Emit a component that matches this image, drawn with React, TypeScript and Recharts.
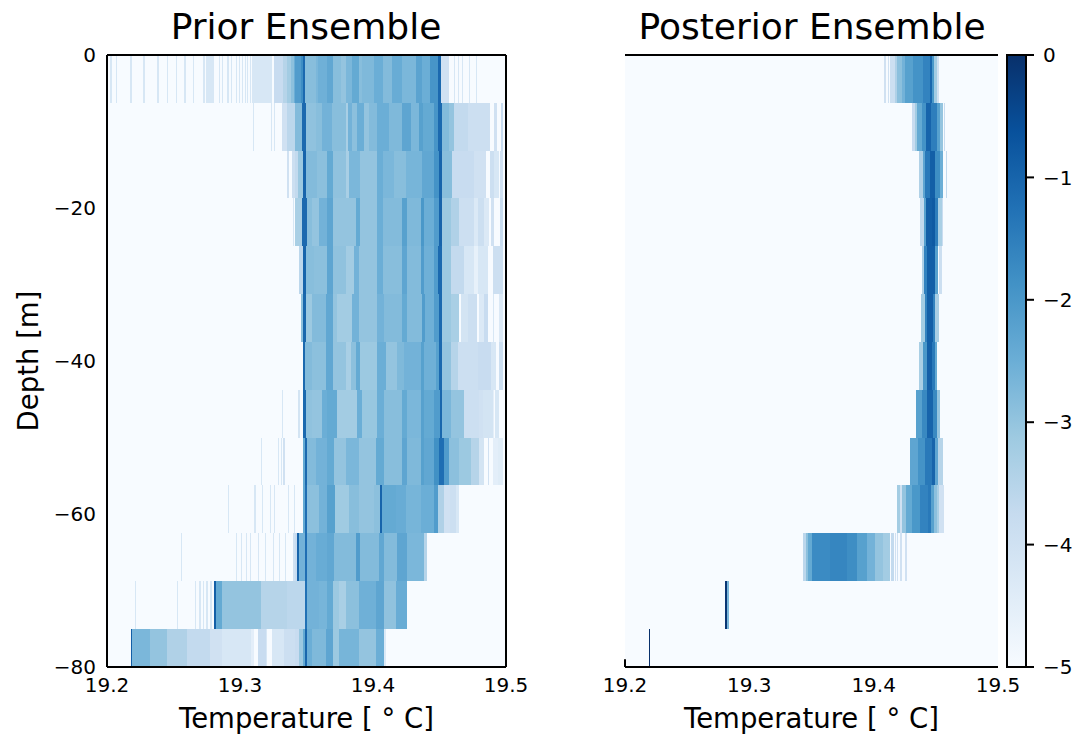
import React from "react";
import { ComposedChart, XAxis, YAxis, ReferenceArea, ReferenceLine } from "recharts";

type Pair = [number, number];

const tempTicks = [19.2, 19.3, 19.4, 19.5];
const depthTicks = [0, -20, -40, -60, -80];
const colorTicks = [0, -1, -2, -3, -4, -5];
const bluesPalette = ["#f7fbff", "#deebf7", "#c6dbef", "#9ecae1", "#6baed6", "#4292c6", "#2171b5", "#08519c", "#08306b"];
const layerThickness = 6.25;
const stickLevel = -4.2;
const stickWidth = 0.0009;

const priorRows: Pair[][] = [
  [[19.2748,-4.2],[19.2808,-5],[19.3092,-4.2],[19.3242,-5],[19.3255,-3.8],[19.332,-3.5],[19.3355,-3.2],[19.338,-2.9],[19.3405,-2.5],[19.3417,-2.1],[19.3455,-1.8],[19.3472,-1.1],[19.3492,-2.85],[19.3573,-2.7],[19.3588,-2.55],[19.3655,-2.35],[19.3698,-2.85],[19.3756,-3],[19.3794,-2.7],[19.3844,-2.4],[19.3894,-2.85],[19.3919,-2.75],[19.4007,-2.5],[19.4075,-2.8],[19.4145,-2.45],[19.422,-2.7],[19.4326,-2.25],[19.4366,-2.5],[19.4426,-1.95],[19.4491,-1.1],[19.4514,-4],[19.4568,-5]],
  [[19.3313,-4],[19.3355,-3.6],[19.3417,-2.8],[19.3467,-1.1],[19.3497,-2.95],[19.3568,-2.85],[19.3618,-2.6],[19.3693,-2.85],[19.3794,-3.3],[19.3814,-2.6],[19.3844,-2.9],[19.3881,-2.5],[19.3932,-3],[19.3969,-2.8],[19.4032,-2.5],[19.412,-2.75],[19.422,-2.3],[19.4283,-2.7],[19.4346,-2.2],[19.4376,-2.4],[19.4459,-1.95],[19.4491,-1.1],[19.4516,-2.8],[19.4572,-3],[19.4609,-3.7],[19.4715,-3.9],[19.4877,-5],[19.491,-4],[19.4935,-5],[19.496,-3.8],[19.498,-5]],
  [[19.3355,-4],[19.3368,-5],[19.3388,-3.9],[19.3417,-3.7],[19.3437,-3.1],[19.3472,-1],[19.3497,-2.8],[19.358,-2.9],[19.3655,-2.4],[19.3701,-2.95],[19.3794,-3.3],[19.3819,-2.7],[19.3906,-3],[19.4032,-2.5],[19.4075,-2.7],[19.4157,-2.85],[19.4245,-2.65],[19.4366,-2.35],[19.4459,-1.9],[19.4496,-1],[19.4516,-2.85],[19.4597,-3.8],[19.476,-4],[19.485,-5],[19.488,-3.9],[19.491,-4.2],[19.495,-5],[19.4955,-4],[19.498,-5]],
  [[19.3417,-3.3],[19.3467,-1.1],[19.35,-2.85],[19.3543,-3],[19.3593,-2.6],[19.3655,-2.3],[19.3701,-3],[19.3869,-2.4],[19.3906,-3],[19.4032,-2.5],[19.4075,-2.8],[19.422,-2.2],[19.4258,-2.75],[19.4358,-2],[19.4383,-2.5],[19.4459,-2.1],[19.4496,-1],[19.4521,-3.1],[19.4584,-3.4],[19.4648,-3.9],[19.4761,-4.3],[19.4786,-3.9],[19.4836,-4.3],[19.4874,-5],[19.4887,-4],[19.4912,-5],[19.4954,-3.8],[19.4974,-5]],
  [[19.344,-3.6],[19.3472,-1],[19.3497,-2.85],[19.3555,-2.9],[19.3655,-2.3],[19.3701,-2.95],[19.3794,-3.2],[19.3856,-2.6],[19.3894,-3],[19.4032,-2.5],[19.4075,-2.85],[19.422,-2.3],[19.4253,-2.8],[19.4358,-2.1],[19.4383,-2.55],[19.4459,-2.1],[19.4491,-1.1],[19.4516,-3.1],[19.4584,-3.7],[19.4686,-4.2],[19.4761,-4.6],[19.4786,-4.2],[19.4861,-5],[19.49,-3.9],[19.4974,-5]],
  [[19.3462,-2.9],[19.3477,-1.05],[19.3497,-3.1],[19.3543,-2.8],[19.3643,-2.35],[19.3698,-3],[19.3731,-3.2],[19.3844,-2.6],[19.3894,-3],[19.4032,-2.6],[19.4082,-2.8],[19.422,-2.4],[19.4253,-2.8],[19.4366,-2.1],[19.4391,-2.55],[19.4459,-2.1],[19.4496,-1.1],[19.4516,-3.1],[19.4584,-3.3],[19.4648,-5],[19.466,-4.1],[19.4711,-5],[19.4718,-3.9],[19.4781,-5],[19.4794,-4.3],[19.4836,-3.8],[19.4861,-5],[19.49,-4.2],[19.4912,-5],[19.4949,-4.3],[19.4974,-5]],
  [[19.3472,-1.1],[19.3492,-2.8],[19.3543,-2.9],[19.3643,-2.35],[19.3698,-3],[19.3794,-3.3],[19.3831,-2.9],[19.3869,-2.4],[19.3906,-3.1],[19.4032,-2.5],[19.4095,-3],[19.4183,-2.75],[19.4233,-2.6],[19.4358,-2.2],[19.4383,-2.55],[19.4471,-2.2],[19.4496,-1.1],[19.4516,-3],[19.4584,-3.5],[19.464,-3.9],[19.4786,-3.8],[19.4887,-4.2],[19.4924,-5],[19.4949,-3.9],[19.4974,-5]],
  [[19.3436,-4.1],[19.3448,-5],[19.3477,-1.1],[19.3497,-2.95],[19.3543,-3],[19.3618,-2.5],[19.3655,-2.4],[19.3731,-3.2],[19.3881,-2.5],[19.3919,-3.05],[19.4032,-2.5],[19.4082,-2.85],[19.422,-2.4],[19.4258,-2.7],[19.4358,-2.2],[19.4383,-2.4],[19.4459,-2.1],[19.4501,-1.05],[19.4521,-2.7],[19.4584,-3],[19.4686,-3.9],[19.4799,-4],[19.4824,-4.1],[19.49,-4.5],[19.4912,-5],[19.492,-4.2],[19.4949,-5]],
  [[19.3325,-4],[19.334,-5],[19.3472,-2.4],[19.3487,-1.1],[19.3502,-2.8],[19.3568,-2.6],[19.3655,-2.4],[19.3706,-3],[19.3794,-2.7],[19.3894,-3],[19.4019,-2.4],[19.4082,-2.85],[19.422,-2.3],[19.4258,-2.75],[19.4358,-2.2],[19.4383,-2.35],[19.4459,-1.85],[19.4496,-1.2],[19.4534,-2.1],[19.4572,-2.9],[19.4648,-3.1],[19.4736,-3.5],[19.4799,-4.1],[19.4831,-5],[19.4861,-4],[19.4874,-5],[19.49,-4.5],[19.4937,-4.4],[19.4974,-5]],
  [[19.3472,-2.4],[19.3487,-1.2],[19.3502,-2.9],[19.3593,-2.6],[19.3655,-2.2],[19.3718,-3.15],[19.3819,-2.85],[19.3894,-3],[19.4007,-2.9],[19.405,-1],[19.407,-2.4],[19.417,-2.45],[19.4245,-2.65],[19.4358,-2.5],[19.4459,-2.1],[19.4491,-3.4],[19.4534,-4],[19.4577,-3.9],[19.4622,-4.2],[19.4647,-5]],
  [[19.34,-4],[19.3417,-3.8],[19.343,-1],[19.3442,-2.6],[19.3487,-1.2],[19.3502,-2.6],[19.3568,-2.45],[19.3655,-2.35],[19.3706,-2.8],[19.3869,-2.1],[19.3899,-2.8],[19.4045,-2.35],[19.4082,-2.8],[19.4183,-2.3],[19.4253,-2.7],[19.4383,-3.5],[19.4408,-5]],
  [[19.2803,-0.9],[19.2816,-2.4],[19.2866,-3],[19.3029,-3],[19.3155,-3.5],[19.3355,-3.6],[19.3487,-1.25],[19.3505,-2.6],[19.3593,-2.65],[19.3655,-2.4],[19.3701,-3.1],[19.3743,-3.3],[19.3794,-2.9],[19.3894,-2.55],[19.4019,-2.3],[19.4082,-2.95],[19.417,-2.45],[19.4258,-5]],
  [[19.2181,-0.9],[19.2191,-2.7],[19.2326,-3],[19.2452,-3.4],[19.2602,-3.7],[19.2778,-4],[19.2866,-4.2],[19.3079,-4.5],[19.3104,-5],[19.3135,-3.8],[19.3192,-4.2],[19.3205,-5],[19.3242,-4.2],[19.333,-3.9],[19.3417,-3.8],[19.3442,-3.1],[19.3472,-2.4],[19.3492,-1.05],[19.3505,-2.5],[19.3543,-2.75],[19.3643,-2.3],[19.3701,-3.1],[19.3743,-2.65],[19.3894,-3],[19.4019,-2.5],[19.4082,-4.3],[19.41,-5]],
];

const priorSticks: number[][] = [
  [19.2025,19.2065,19.2176,19.2274,19.2379,19.2449,19.2517,19.2582,19.2643,19.2725,19.2841,19.2863,19.2906,19.2929,19.2971,19.2991,19.3012,19.3034,19.3054,19.3072,19.461,19.464,19.467,19.4723,19.4774],
  [19.3097,19.3235,19.3255],
  [],
  [19.3398],
  [],
  [],
  [],
  [19.3315],
  [19.3157,19.3285,19.331],
  [19.2911,19.3109,19.3115,19.3162,19.3222,19.3255,19.336,19.3408],
  [19.2555,19.2971,19.3004,19.3042,19.3072,19.3137,19.3185,19.3247,19.3293,19.3335],
  [19.2208,19.2525,19.2658,19.2695,19.2723,19.2748,19.2778],
  [],
];

const posteriorRows: Pair[][] = [
  [[19.4082,-4],[19.4098,-5],[19.4114,-4],[19.4125,-5],[19.413,-3.9],[19.4171,-3.4],[19.4189,-2.9],[19.4224,-2.6],[19.4251,-2.2],[19.4318,-1.9],[19.4398,-1.6],[19.4452,-1.05],[19.4473,-2],[19.4484,-3.2],[19.4506,-4],[19.4524,-5]],
  [[19.4307,-3.8],[19.4331,-3.2],[19.435,-2.4],[19.4385,-1.9],[19.4417,-1],[19.4465,-1.5],[19.4506,-2.2],[19.4532,-3],[19.4554,-5],[19.4565,-3.8],[19.4573,-5]],
  [[19.4367,-3.4],[19.4399,-2.3],[19.4413,-1.4],[19.4453,-0.9],[19.4493,-1.8],[19.4533,-2.5],[19.456,-5],[19.4578,-3.7],[19.4586,-5]],
  [[19.4375,-3.7],[19.4405,-2.2],[19.4418,-0.9],[19.4466,-0.8],[19.4493,-1.5],[19.452,-3.3],[19.4548,-5],[19.4552,-3.8],[19.456,-5]],
  [[19.4388,-3.4],[19.4407,-1.6],[19.4426,-0.9],[19.4493,-2.2],[19.4514,-5],[19.4528,-3.9],[19.4547,-5]],
  [[19.438,-3.2],[19.4413,-1.6],[19.4426,-0.9],[19.4474,-1.6],[19.4493,-3.3],[19.4525,-5]],
  [[19.4367,-3.3],[19.4399,-2],[19.4426,-0.9],[19.4466,-1.4],[19.4493,-2.4],[19.4506,-5]],
  [[19.4343,-2.2],[19.4386,-1.7],[19.4426,-1],[19.448,-1.7],[19.4506,-3],[19.4533,-5]],
  [[19.4292,-2.3],[19.4359,-1.9],[19.4413,-1.4],[19.4466,-1],[19.4493,-2.3],[19.452,-3.5],[19.4555,-5]],
  [[19.4187,-3.2],[19.4211,-4],[19.4224,-3],[19.4259,-2.4],[19.4305,-2],[19.4372,-1.6],[19.4439,-1.4],[19.446,-2.2],[19.4484,-2.9],[19.4506,-3.3],[19.4527,-4],[19.4565,-5]],
  [[19.3431,-3.6],[19.3455,-2.9],[19.3474,-2.4],[19.3501,-1.75],[19.3648,-1.65],[19.3782,-1.8],[19.3863,-2.2],[19.3943,-2.6],[19.401,-3],[19.4077,-3.2],[19.4131,-5],[19.4139,-3.7],[19.4163,-5],[19.4171,-4],[19.4179,-5],[19.4187,-4],[19.4195,-5],[19.4211,-4],[19.4227,-5],[19.4251,-4],[19.4267,-5]],
  [[19.2804,-0.1],[19.2822,-2.7],[19.2836,-5]],
  [[19.2193,0],[19.2201,-5]],
];

const posteriorSticks: number[][] = [[], [], [], [], [], [], [], [], [], [], [], [], []];

const font = "'DejaVu Sans', sans-serif";

function blues(v: number): string {
  const t = Math.max(0, Math.min(1, (v + 5) / 5)) * (bluesPalette.length - 1);
  const i = Math.min(Math.floor(t), bluesPalette.length - 2);
  const f = t - i;
  const p = (h: string, k: number) => parseInt(h.slice(k, k + 2), 16);
  const ch = (k: number) => Math.round(p(bluesPalette[i], k) * (1 - f) + p(bluesPalette[i + 1], k) * f);
  return `rgb(${ch(1)},${ch(3)},${ch(5)})`;
}

function cells(rows: Pair[][], sticks: number[][], prefix: string) {
  const out: React.ReactNode[] = [];
  const area = (key: string, x1: number, x2: number, r: number, v: number) => (
    <ReferenceArea
      key={key}
      x1={x1}
      x2={x2}
      y1={Math.max(-80, -(r + 1) * layerThickness)}
      y2={-r * layerThickness}
      fill={blues(v)}
      fillOpacity={1}
      stroke="none"
      shapeRendering="crispEdges"
    />
  );
  rows.forEach((row, r) => {
    row.forEach((pair, i) => {
      if (i < row.length - 1 && pair[1] > -5) out.push(area(`${prefix}-${r}-${i}`, pair[0], row[i + 1][0], r, pair[1]));
    });
    sticks[r].forEach((t, i) => out.push(area(`${prefix}-s${r}-${i}`, t, t + stickWidth, r, stickLevel)));
  });
  return out;
}

const tickStyle = { fontFamily: font, fontSize: 20, fill: "#000" };
const fmtMinus = (v: number) => String(v).replace("-", "\u2212");
const axisLabel = "Temperature [ \u00B0 C]";

function Title({ text, center }: { text: string; center: number }) {
  return (
    <div style={{ position: "absolute", left: center - 250, width: 500, top: 5, textAlign: "center", fontFamily: font, fontSize: 36, lineHeight: "44px", color: "#000" }}>
      {text}
    </div>
  );
}

const spine = { stroke: "#000", strokeWidth: 2, ifOverflow: "visible" as const };

export default function App() {
  return (
    <div style={{ position: "absolute", left: 0, top: 0, width: 1089, height: 734, overflow: "hidden", background: "#fff" }}>
      <Title text="Prior Ensemble" center={306} />
      <Title text="Posterior Ensemble" center={812} />

      <div style={{ position: "absolute", left: 0, top: 0 }}>
        <ComposedChart width={530} height={734} margin={{ top: 55, right: 24, bottom: 0, left: 0 }}>
          <XAxis
            type="number"
            dataKey="x"
            domain={[19.2, 19.5]}
            ticks={tempTicks}
            interval={0}
            allowDataOverflow
            tickFormatter={(v: number) => v.toFixed(1)}
            tick={tickStyle}
            tickLine={false}
            axisLine={false}
            tickMargin={5}
            height={67}
            label={{ value: axisLabel, position: "insideBottom", offset: 6, style: { fontFamily: font, fontSize: 27.5, fill: "#000" } }}
          />
          <YAxis
            type="number"
            dataKey="y"
            domain={[-80, 0]}
            ticks={depthTicks}
            interval={0}
            allowDataOverflow
            tickFormatter={fmtMinus}
            tick={tickStyle}
            tickLine={false}
            axisLine={false}
            tickMargin={5}
            width={107}
            label={{ value: "Depth [m]", angle: -90, position: "insideLeft", offset: 28, style: { fontFamily: font, fontSize: 27.5, fill: "#000", textAnchor: "middle" } }}
          />
          <ReferenceArea x1={19.2} x2={19.5} y1={-80} y2={0} fill={blues(-5)} fillOpacity={1} stroke="none" />
          {cells(priorRows, priorSticks, "prior")}
          <ReferenceLine x={19.2} {...spine} />
          <ReferenceLine x={19.5} {...spine} />
          <ReferenceLine y={0} {...spine} />
          <ReferenceLine y={-80} {...spine} />
        </ComposedChart>
      </div>

      <div style={{ position: "absolute", left: 540, top: 0 }}>
        <ComposedChart width={480} height={734} margin={{ top: 55, right: 22, bottom: 0, left: 85 }}>
          <XAxis
            type="number"
            dataKey="x"
            domain={[19.2, 19.5]}
            ticks={tempTicks}
            interval={0}
            allowDataOverflow
            tickFormatter={(v: number) => v.toFixed(1)}
            tick={tickStyle}
            tickLine={false}
            axisLine={false}
            tickMargin={5}
            height={67}
            label={{ value: axisLabel, position: "insideBottom", offset: 6, style: { fontFamily: font, fontSize: 27.5, fill: "#000" } }}
          />
          <YAxis type="number" dataKey="y" domain={[-80, 0]} allowDataOverflow hide />
          <ReferenceArea x1={19.2} x2={19.5} y1={-80} y2={0} fill={blues(-5)} fillOpacity={1} stroke="none" />
          {cells(posteriorRows, posteriorSticks, "post")}
          <ReferenceLine y={0} {...spine} />
          <ReferenceLine y={-80} {...spine} />
          <ReferenceLine segment={[{ x: 19.2, y: -80 }, { x: 19.2, y: -79 }]} {...spine} />
        </ComposedChart>
      </div>

      <div style={{ position: "absolute", left: 1000, top: 0 }}>
        <ComposedChart width={89} height={734} margin={{ top: 55, right: 0, bottom: 67, left: 7 }}>
          <defs>
            <linearGradient id="bluesBar" x1="0" y1="1" x2="0" y2="0">
              {bluesPalette.map((c, i) => (
                <stop key={c} offset={i / (bluesPalette.length - 1)} stopColor={c} />
              ))}
            </linearGradient>
          </defs>
          <XAxis type="number" dataKey="x" domain={[0, 1]} allowDataOverflow hide />
          <YAxis
            type="number"
            dataKey="y"
            orientation="right"
            domain={[-5, 0]}
            ticks={colorTicks}
            interval={0}
            allowDataOverflow
            tickFormatter={fmtMinus}
            tick={{ ...tickStyle, textAnchor: "start" }}
            tickLine={{ stroke: "#000", strokeWidth: 2 }}
            tickSize={8}
            tickMargin={9}
            axisLine={false}
            width={63}
          />
          <ReferenceArea x1={0} x2={1} y1={-5} y2={0} fill="url(#bluesBar)" fillOpacity={1} stroke="#000" strokeWidth={2} />
        </ComposedChart>
      </div>
    </div>
  );
}
